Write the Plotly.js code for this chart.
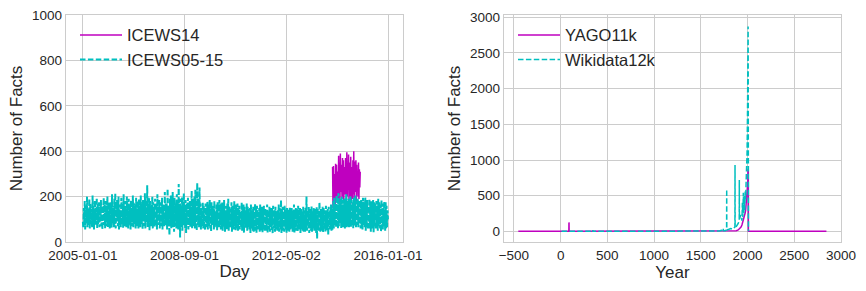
<!DOCTYPE html>
<html><head><meta charset="utf-8">
<script src="https://cdn.plot.ly/plotly-3.0.1.min.js"></script>
<style>html,body{margin:0;padding:0;background:#fff}#chart{width:866px;height:291px}</style>
</head><body><div id="chart"></div>
<script>
// ---- Left panel: daily facts (sampled readings of the dense band) ----
const icews0515Start = '2005-01-01';
const icews0515End = '2015-12-31';
const icews0515 = [
 90,60,150,75,180,55,120,160,85,200,65,140,100,75,190,60,170,80,145,110,65,205,70,160,55,130,185,75,150,90,
 195,60,170,80,125,175,65,150,95,185,70,160,55,140,110,195,75,165,60,180,85,150,70,200,65,135,90,175,60,160,
 70,175,60,210,85,150,120,65,190,75,215,60,160,90,185,105,70,200,55,165,80,140,65,195,130,75,170,60,210,85,
 155,70,180,95,65,200,80,170,60,190,110,75,160,55,185,70,150,90,205,65,175,125,80,160,60,195,70,145,85,180,
 60,190,80,160,65,205,115,75,170,55,185,90,150,70,215,60,175,130,85,250,65,160,75,195,50,180,105,70,165,85,
 200,60,175,80,155,65,190,120,70,170,55,210,75,160,90,185,60,140,100,175,70,195,55,165,85,150,65,220,75,170,
 80,170,55,235,70,160,110,30,190,75,205,60,150,85,220,65,175,45,195,125,70,165,60,210,80,180,55,255,75,170,
 20,190,95,65,200,50,175,70,215,85,160,60,185,40,170,115,75,195,55,160,80,180,65,150,90,225,60,175,70,190,
 70,200,60,230,85,175,50,260,120,75,190,65,240,80,170,55,150,100,70,175,60,160,75,140,50,170,65,155,80,180,
 55,165,110,70,185,60,150,45,175,75,160,90,145,55,180,65,135,105,70,165,50,175,80,150,60,185,70,140,55,170,
 60,175,50,150,70,185,110,45,160,65,140,55,170,75,190,50,155,95,60,145,70,175,45,160,65,150,55,180,70,140,
 50,165,85,60,170,45,150,75,160,55,135,100,65,175,50,145,70,165,40,155,90,60,140,75,170,50,155,65,145,55,
 55,150,40,165,60,140,95,50,155,45,135,65,170,50,145,40,160,85,55,130,60,150,45,165,50,140,60,155,40,145,
 55,160,100,45,150,60,135,50,165,40,140,75,55,155,45,130,65,150,50,145,35,160,90,60,140,45,155,55,135,50,
 50,140,60,165,45,150,90,55,185,40,145,60,155,50,135,45,160,100,55,140,40,150,60,130,50,145,45,155,55,140,
 60,150,85,45,140,55,165,40,135,60,150,50,145,95,45,160,55,130,60,150,40,145,80,55,135,50,155,45,140,60,
 45,150,55,200,50,140,90,60,155,40,145,55,135,50,160,45,140,100,60,150,50,130,55,145,40,155,15,150,60,140,
 50,175,85,45,145,60,135,50,155,40,150,95,55,140,45,160,60,135,50,145,30,155,90,55,140,60,165,50,145,55,
 70,180,60,195,75,170,120,65,205,80,185,60,215,70,175,130,85,190,60,200,75,165,65,185,80,195,60,175,70,210,
 65,180,110,70,190,60,170,80,200,65,185,125,75,175,60,195,85,165,70,205,60,180,115,75,190,65,170,80,185,60,
 60,185,70,165,55,195,110,75,175,60,200,50,170,65,185,100,55,160,70,190,60,175,45,180,65,165,55,185,40,175,
 70,170,95,55,180,65,160,50,190,70,175,105,60,165,45,185,65,170,55,150,70,180,90,50,175,60,160,65,140,100
];
const icews14Start = '2014-01-01';
const icews14End = '2014-12-31';
const icews14 = [
 330,150,335,180,300,250,160,345,200,340,190,310,280,170,380,210,350,160,390,220,
 340,260,190,370,200,360,180,330,240,210,370,290,170,395,200,340,230,385,180,350,
 260,200,375,170,330,250,190,360,210,400,190,355,270,220,360,180,340,230,310,200,
 350,190,320,240,310
];
const dayTicks = ['2005-01-01','2008-09-01','2012-05-02','2016-01-01'];

// ---- Right panel: facts per year ----
const yagoYears  = [-453, 88, 89, 90, 91, 1800, 1850, 1880, 1900, 1920, 1930, 1940, 1950, 1960, 1965, 1970, 1975, 1980, 1985, 1990, 1995, 2000, 2003, 2005, 2008, 2009, 2844];
const yagoCounts = [0, 0, 125, 120, 0, 2, 5, 10, 20, 40, 60, 90, 130, 170, 190, 230, 260, 300, 380, 430, 500, 600, 700, 870, 860, 0, 0];
const wikiYears  = [10, 344, 345, 346, 1700, 1720, 1740, 1741, 1742, 1760, 1776, 1777, 1778, 1800, 1820, 1840, 1860, 1865, 1866, 1867, 1880, 1890, 1900, 1910, 1911, 1912, 1913, 1920, 1930, 1940, 1945, 1950, 1955, 1960, 1965, 1970, 1975, 1980, 1985, 1990, 1995, 2000, 2004, 2006, 2008, 2009, 2010];
const wikiCounts = [0, 0, 20, 0, 5, 15, 10, 35, 10, 10, 20, 590, 20, 30, 40, 30, 50, 60, 930, 60, 70, 90, 110, 150, 160, 720, 170, 200, 230, 150, 400, 200, 540, 250, 500, 300, 560, 450, 700, 900, 1100, 1700, 2500, 2870, 1500, 0, 0];

function spreadDates(start, end, n) {
  const a = Date.parse(start + 'T00:00:00Z'), b = Date.parse(end + 'T00:00:00Z');
  const out = [];
  for (let i = 0; i < n; i++) {
    const d = new Date(a + (b - a) * i / (n - 1));
    out.push(d.toISOString().slice(0, 19).replace('T', ' '));
  }
  return out;
}

const MAG = '#bf00bf', CYA = '#00bfbf';
const DASH = '5.5px,2.4px';
const FONT = 'Liberation Sans, Arial, sans-serif';

const traces = [
  {x: spreadDates(icews14Start, icews14End, icews14.length), y: icews14, name: 'ICEWS14', mode: 'lines',
   line: {color: MAG, width: 1.5}, xaxis: 'x', yaxis: 'y', legend: 'legend'},
  {x: spreadDates(icews0515Start, icews0515End, icews0515.length), y: icews0515, name: 'ICEWS05-15', mode: 'lines',
   line: {color: CYA, width: 2, dash: DASH}, xaxis: 'x', yaxis: 'y', legend: 'legend'},
  {x: yagoYears, y: yagoCounts, name: 'YAGO11k', mode: 'lines',
   line: {color: MAG, width: 1.5}, xaxis: 'x2', yaxis: 'y2', legend: 'legend2'},
  {x: wikiYears, y: wikiCounts, name: 'Wikidata12k', mode: 'lines',
   line: {color: CYA, width: 1.5, dash: DASH}, xaxis: 'x2', yaxis: 'y2', legend: 'legend2'}
];

const axBase = {
  showgrid: true, gridcolor: '#cccccc', gridwidth: 1,
  showline: true, mirror: true, linecolor: '#cccccc', linewidth: 1.3,
  ticks: '', zeroline: false, tickfont: {size: 13.5, color: '#262626'},
  automargin: false
};
const W = 866;
const layout = {
  width: 866, height: 291,
  margin: {l: 0, r: 0, t: 15, b: 49},
  paper_bgcolor: '#ffffff', plot_bgcolor: '#ffffff',
  font: {family: FONT, color: '#262626'},
  showlegend: true,
  xaxis: Object.assign({}, axBase, {
    domain: [66 / W, 403 / W], anchor: 'y', type: 'date',
    range: ['2004-05-24', '2016-07-16'],
    tickvals: dayTicks, ticktext: dayTicks,
    title: {text: 'Day', font: {size: 17, color: '#262626'}, standoff: 3}
  }),
  yaxis: Object.assign({}, axBase, {
    domain: [0, 1], anchor: 'x', range: [0, 1000], dtick: 200, tick0: 0,
    title: {text: 'Number of Facts', font: {size: 17, color: '#262626'}}
  }),
  xaxis2: Object.assign({}, axBase, {
    domain: [504 / W, 841 / W], anchor: 'y2', range: [-606, 3000], dtick: 500, tick0: 0,
    title: {text: 'Year', font: {size: 17, color: '#262626'}, standoff: 3}
  }),
  yaxis2: Object.assign({}, axBase, {
    domain: [0, 1], anchor: 'x2', range: [-149, 3032], dtick: 500, tick0: 0,
    title: {text: 'Number of Facts', font: {size: 17, color: '#262626'}}
  }),
  legend: {x: 75 / W, y: 0.988, xanchor: 'left', yanchor: 'top', bgcolor: 'rgba(0,0,0,0)',
           font: {size: 16.5, color: '#262626'}, tracegroupgap: 0, itemwidth: 42},
  legend2: {x: 513 / W, y: 0.988, xanchor: 'left', yanchor: 'top', bgcolor: 'rgba(0,0,0,0)',
            font: {size: 16.5, color: '#262626'}, tracegroupgap: 0, itemwidth: 42}
};

Plotly.newPlot('chart', traces, layout, {displayModeBar: false, staticPlot: true});
</script>
</body></html>
